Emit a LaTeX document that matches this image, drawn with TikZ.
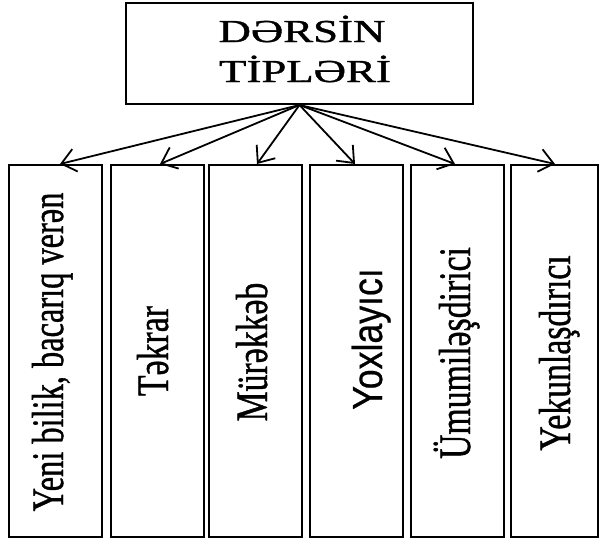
\documentclass[tikz,border=0pt]{standalone}
\usepackage{fontspec}
\setmainfont{Liberation Serif}
\newfontfamily\boxfont[FakeBold=1]{Liberation Serif}
\newfontfamily\yoxfont[FakeBold=0.6]{Liberation Sans}
\usepackage{tikz}
\usetikzlibrary{arrows.meta}
\tikzset{
  font={\boxfont\fontsize{45pt}{50pt}\selectfont}}
\newcommand{\narrow}[2][0.75]{\scalebox{#1}[1]{#2}}

\begin{document}
\begin{tikzpicture}[x=1pt,y=-1pt]
\tikzstyle{every node}+=[inner sep=0pt]
\tikzstyle{kind}=[draw, line width=2pt, minimum width=93pt, minimum height=372pt]
\tikzstyle{vlabel}=[rotate=90, anchor=base]
\tikzstyle{arw}=[line width=1.8pt, -{Straight Barb[length=14pt,width=23pt]}]
\useasboundingbox (0,0) rectangle (599,539);
\node [draw, line width=2pt, minimum width=347pt, minimum height=101pt] (head) at (299.5,53.5) {};
\node [anchor=base] (head1) at (302,42) {\fontsize{32pt}{34pt}\selectfont\scalebox{1.4}[1]{DƏRSİN}};
\node [anchor=base] (head2) at (305,82) {\fontsize{32pt}{34pt}\selectfont\scalebox{1.4}[1]{TİPLƏRİ}};
\node [kind] (new) at (55.5,351) {};
\node [kind] (rep) at (157,351) {};
\node [kind] (mix) at (255.5,351) {};
\node [kind] (chk) at (356.5,351) {};
\node [kind] (gen) at (457,351) {};
\node [kind, minimum width=87pt] (fin) at (554,351) {};
\node [vlabel] (newtxt) at (63,352) {\narrow[0.72]{Yeni bilik, bacarıq verən}};
\node [vlabel] (reptxt) at (168,351) {\narrow{Təkrar}};
\node [vlabel] (mixtxt) at (267,352) {\narrow{Mürəkkəb}};
\node [vlabel] (chktxt) at (382,339) {\yoxfont\fontsize{42pt}{46pt}\selectfont\narrow[0.85]{Yoxlayıcı}};
\node [vlabel] (gentxt) at (470,353) {\narrow{Ümumiləşdirici}};
\node [vlabel] (fintxt) at (570,353) {\narrow{Yekunlaşdırıcı}};
\draw [arw] (head.south) -- ([xshift=4.5pt]new.north);
\draw [arw] (head.south) -- ([xshift=3pt]rep.north);
\draw [arw] (head.south) -- ([xshift=1.5pt]mix.north);
\draw [arw] (head.south) -- ([xshift=-1.5pt]chk.north);
\draw [arw] (head.south) -- ([xshift=-2pt]gen.north);
\draw [arw] (head.south) -- ([xshift=1pt]fin.north);
\end{tikzpicture}
\end{document}
